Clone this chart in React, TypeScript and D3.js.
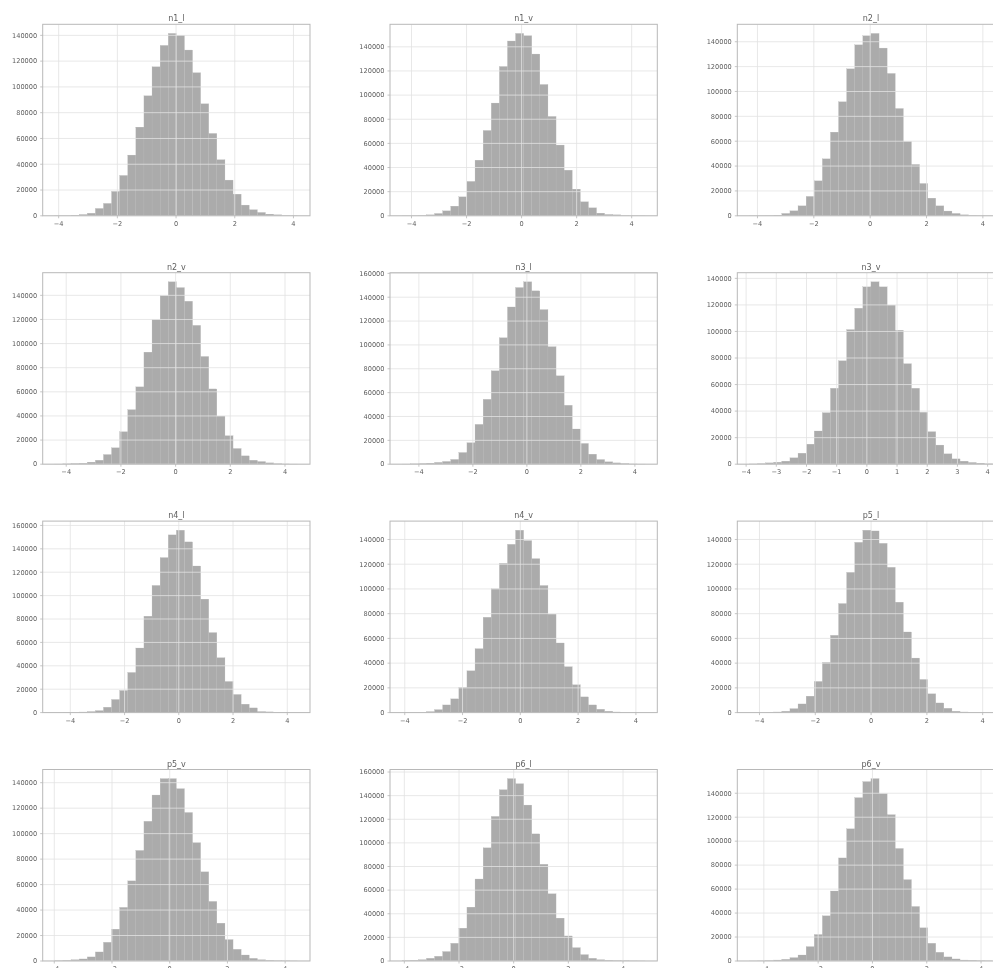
import React from "react";
import * as d3 from "d3";

const TITLES = ["n1_l", "n1_v", "n2_l", "n2_v", "n3_l", "n3_v", "n4_l", "n4_v", "p5_l", "p5_v", "p6_l", "p6_v"];

// [min, max] of the data range (30 equal bins)
const BIN_RANGES: [number, number][] = [
  [-4.13, 4.15],
  [-4.34, 4.49],
  [-4.285, 4.34],
  [-4.416, 4.47],
  [-4.62, 4.38],
  [-3.89, 4.16],
  [-4.57, 4.39],
  [-4.09, 4.32],
  [-4.36, 4.35],
  [-3.98, 4.44],
  [-4.08, 4.81],
  [-4.53, 4.42],
];

const n1_l = [50, 100, 500, 1000, 2000, 5700, 9600, 18900, 31300, 47100, 68800, 93100, 115600, 132200, 141500, 140000, 128600, 111000, 86900, 63900, 43500, 27700, 16800, 8300, 4700, 2600, 1300, 800, 300, 100];
const n1_v = [50, 100, 300, 800, 1900, 4100, 8000, 15700, 28500, 46100, 70700, 93400, 123700, 144800, 151100, 149200, 134000, 108800, 82300, 58600, 37800, 22100, 11600, 6600, 2200, 1100, 800, 200, 100, 50];
const n2_l = [50, 100, 200, 500, 1900, 4000, 8000, 15600, 28100, 45800, 67300, 91700, 118200, 137500, 144800, 146700, 134900, 114500, 86300, 59800, 41300, 26000, 14200, 8000, 3800, 1900, 800, 300, 100, 50];
const n2_v = [100, 300, 600, 800, 1700, 3300, 8000, 13600, 26900, 45200, 64100, 92900, 119800, 139800, 151200, 146400, 135100, 115100, 89300, 62400, 39900, 23600, 13000, 6900, 3300, 2200, 1100, 500, 200, 100];
const n3_l = [100, 300, 600, 900, 1500, 2300, 4000, 9800, 18000, 33400, 54400, 78300, 106000, 131800, 148100, 152900, 145300, 129600, 98500, 74100, 49400, 29500, 17400, 8400, 3900, 2000, 1100, 600, 200, 100];
const n3_v = [200, 500, 1000, 1500, 2300, 4800, 8300, 15100, 25000, 38800, 57200, 77900, 101400, 117500, 133600, 137400, 133600, 119800, 100900, 75700, 57200, 39100, 24500, 14400, 7800, 4000, 2300, 1300, 800, 300];
const n4_l = [50, 100, 200, 500, 900, 1700, 4600, 11200, 18900, 34300, 55200, 82400, 108700, 132500, 151900, 155900, 145900, 125300, 97000, 68400, 46900, 26600, 15500, 7200, 4000, 900, 600, 300, 100, 50];
const n4_v = [50, 100, 300, 800, 2400, 6200, 11100, 20300, 33800, 51700, 77100, 100100, 120700, 136100, 147500, 139100, 124500, 102800, 79600, 56300, 37100, 22500, 12700, 6200, 2700, 1100, 500, 200, 100, 50];
const p5_l = [30, 50, 100, 500, 1100, 3200, 7000, 13300, 25200, 40600, 62500, 88200, 113400, 137700, 147500, 146900, 136900, 117500, 89300, 65200, 44100, 26800, 15200, 7800, 3500, 1100, 500, 200, 100, 30];
const p5_v = [200, 500, 1000, 1600, 3200, 7100, 14700, 25000, 42100, 62900, 86800, 109700, 130300, 143200, 143200, 135300, 116600, 92900, 70000, 46800, 29700, 16800, 9200, 4700, 2100, 1000, 500, 200, 100, 50];
const p6_l = [300, 600, 1100, 2300, 4000, 8000, 15000, 27800, 45600, 69400, 95800, 122400, 145000, 154400, 150100, 132000, 107600, 81900, 56900, 36300, 21200, 11300, 5400, 2300, 1100, 600, 300, 200, 100, 50];
const p6_v = [30, 100, 300, 800, 1400, 2800, 5000, 12000, 22100, 37700, 58400, 86000, 110300, 136300, 149700, 152200, 139700, 122100, 93900, 67900, 45500, 27700, 14800, 7300, 3400, 1700, 800, 600, 200, 100];

const COUNTS = [n1_l, n1_v, n2_l, n2_v, n3_l, n3_v, n4_l, n4_v, p5_l, p5_v, p6_l, p6_v];

const X_TICKS_WIDE = [-4, -2, 0, 2, 4];
const X_TICKS_UNIT = [-4, -3, -2, -1, 0, 1, 2, 3, 4];
const X_TICKS = [X_TICKS_WIDE, X_TICKS_WIDE, X_TICKS_WIDE, X_TICKS_WIDE, X_TICKS_WIDE, X_TICKS_UNIT, X_TICKS_WIDE, X_TICKS_WIDE, X_TICKS_WIDE, X_TICKS_WIDE, X_TICKS_WIDE, X_TICKS_WIDE];

const W = 993;
const H = 968;
const COL_LEFT = 42.7;
const COL_STEP = 347.3;
const PANEL_W = 267.3;
const ROW_TOP = 24.3;
const ROW_STEP = 248.4;
const PANEL_H = 191.5;

const FONT = "DejaVu Sans, sans-serif";
const BAR = "#ababab";
const GRID = "#e2e2e2";
const SPINE = "#b8b8b8";
const TEXT = "#5e5e5e";

function fmtX(v: number) {
  return v < 0 ? "\u2212" + Math.abs(v) : String(v);
}

function Panel({ idx }: { idx: number }) {
  const col = idx % 3;
  const row = Math.floor(idx / 3);
  const x0 = COL_LEFT + col * COL_STEP;
  const y0 = ROW_TOP + row * ROW_STEP;
  const [lo, hi] = BIN_RANGES[idx];
  const counts = COUNTS[idx];
  const span = hi - lo;
  const x = d3.scaleLinear().domain([lo - 0.05 * span, hi + 0.05 * span]).range([0, PANEL_W]);
  const ymax = (d3.max(counts) as number) * 1.05;
  const y = d3.scaleLinear().domain([0, ymax]).range([PANEL_H, 0]);
  const nb = counts.length;
  const binW = span / nb;
  const yTicks = d3.range(0, ymax, 20000);
  const xTicks = X_TICKS[idx];
  const clipId = "clip" + idx;
  return (
    <g transform={`translate(${x0},${y0})`}>
      <defs>
        <clipPath id={clipId}>
          <rect x={0} y={0} width={PANEL_W} height={PANEL_H} />
        </clipPath>
      </defs>
      <g clipPath={`url(#${clipId})`}>
        {counts.map((c, i) => {
          const a = x(lo + i * binW);
          const b = x(lo + (i + 1) * binW);
          return <rect key={i} x={a} y={y(c)} width={b - a} height={PANEL_H - y(c)} fill={BAR} stroke="#b6b6b6" strokeWidth={0.25} />;
        })}
        {yTicks.map((t) => (
          <line key={"gy" + t} x1={0} x2={PANEL_W} y1={y(t)} y2={y(t)} stroke={GRID} strokeWidth={0.8} />
        ))}
        {xTicks.map((t) => (
          <line key={"gx" + t} x1={x(t)} x2={x(t)} y1={0} y2={PANEL_H} stroke={GRID} strokeWidth={0.8} />
        ))}
      </g>
      <rect x={0} y={0} width={PANEL_W} height={PANEL_H} fill="none" stroke={SPINE} strokeWidth={1} />
      {yTicks.map((t) => (
        <g key={"ty" + t}>
          <line x1={-2.5} x2={0} y1={y(t)} y2={y(t)} stroke={SPINE} strokeWidth={0.8} />
          <text x={-5.5} y={y(t)} dy="0.35em" textAnchor="end" fontSize={6.6} fill={TEXT} fontFamily={FONT}>
            {t}
          </text>
        </g>
      ))}
      {xTicks.map((t) => (
        <g key={"tx" + t}>
          <line x1={x(t)} x2={x(t)} y1={PANEL_H} y2={PANEL_H + 2.5} stroke={SPINE} strokeWidth={0.8} />
          <text x={x(t)} y={PANEL_H + 10} textAnchor="middle" fontSize={6.6} fill={TEXT} fontFamily={FONT}>
            {fmtX(t)}
          </text>
        </g>
      ))}
      <text x={PANEL_W / 2} y={-3} textAnchor="middle" fontSize={8} fill={TEXT} fontFamily={FONT}>
        {TITLES[idx]}
      </text>
    </g>
  );
}

export default function App() {
  return (
    <div style={{ position: "absolute", left: 0, top: 0, width: W, height: H, background: "#fff", willChange: "transform" }}>
      <svg width={W} height={H} viewBox={`0 0 ${W} ${H}`} style={{ display: "block" }}>
        <rect width={W} height={H} fill="#fff" />
        {TITLES.map((_, i) => (
          <Panel key={i} idx={i} />
        ))}
      </svg>
    </div>
  );
}
